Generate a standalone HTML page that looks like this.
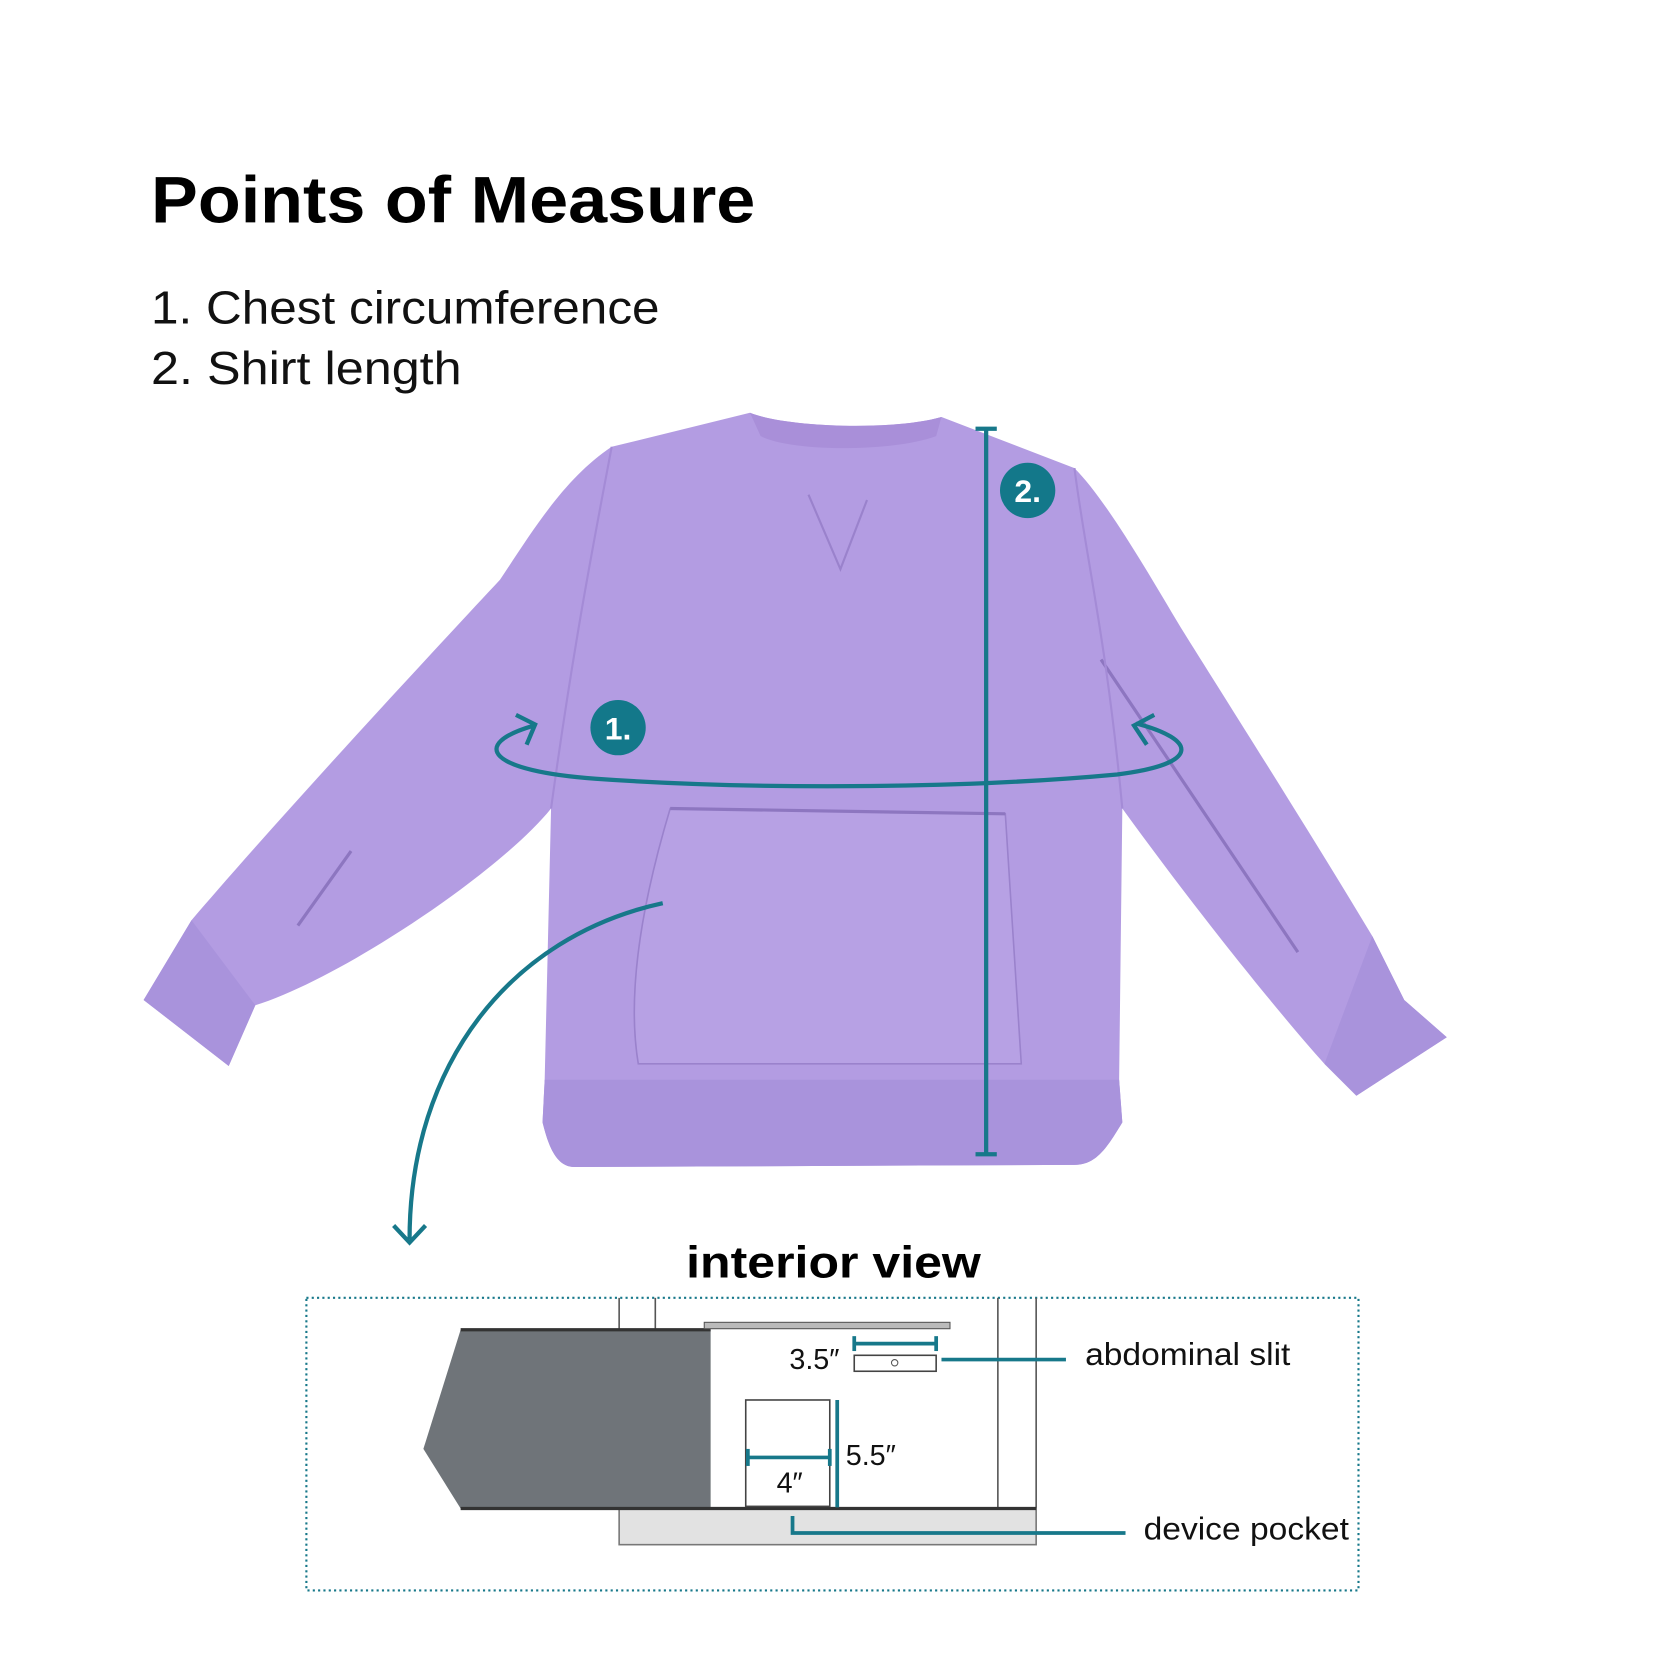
<!DOCTYPE html>
<html><head><meta charset="utf-8"><style>
html,body{margin:0;padding:0;background:#fff;}
svg{display:block;}
text{font-family:"Liberation Sans",sans-serif;}
</style></head><body>
<svg width="1667" height="1667" viewBox="0 0 1567 1567" xmlns="http://www.w3.org/2000/svg">
<rect width="1567" height="1567" fill="#fff"/>
<text x="142" y="209" font-size="62" font-weight="bold" fill="#000" textLength="568" lengthAdjust="spacingAndGlyphs">Points of Measure</text>
<text x="142" y="304" font-size="44" fill="#111" textLength="478" lengthAdjust="spacingAndGlyphs">1. Chest circumference</text>
<text x="142" y="361" font-size="44" fill="#111" textLength="292" lengthAdjust="spacingAndGlyphs">2. Shirt length</text>

<!-- sweater -->
<g>
<path d="M705,388 C740,402 840,405 885,392 L1010,440 C1040,470 1080,540 1110,590 C1160,670 1230,780 1290,880 L1320,940 L1360,975 L1275,1030 L1245,1000 C1200,950 1120,850 1055,760 L1052,1015 L1055,1055 C1040,1080 1030,1095 1010,1095 L540,1097 C522,1097 515,1075 510,1055 L512,1015 L518,760 C470,820 320,920 240,945 L215,1002 L135,940 L180,865 C270,760 400,620 470,545 C500,500 530,450 575,420 Z" fill="#b39ce2"/>
<path d="M705,388 C740,402 840,405 885,392 L880,410 C840,425 745,425 715,410 Z" fill="#a98fd9"/>
<path d="M512,1015 L1052,1015 L1055,1055 C1040,1080 1030,1095 1010,1095 L540,1097 C522,1097 515,1075 510,1055 Z" fill="#a993dc"/>
<path d="M180,865 L240,945 L215,1002 L135,940 Z" fill="#a993dc"/>
<path d="M1290,880 L1320,940 L1360,975 L1275,1030 L1245,1000 Z" fill="#a993dc"/>
<path d="M630,760 L945,765 L960,1000 L600,1000 C590,940 600,860 630,760 Z" fill="#b7a1e4" stroke="#9a82cc" stroke-width="1.5"/>
<line x1="630" y1="760" x2="945" y2="765" stroke="#8d76c0" stroke-width="3"/>
<path d="M760,465 L790,535 L815,470" fill="none" stroke="#9a82cc" stroke-width="2"/>
<path d="M280,870 L330,800 M1035,620 L1220,895" stroke="#8d76c0" stroke-width="3"/>
<path d="M575,420 C560,500 540,600 518,760 M1010,440 C1020,520 1040,600 1055,760" fill="none" stroke="#a48bd6" stroke-width="2"/>
</g>

<!-- measurement 2 -->
<g stroke="#17788a" stroke-width="4" fill="none">
<line x1="927" y1="403" x2="927" y2="1085"/>
<line x1="917" y1="403" x2="937" y2="403"/>
<line x1="917" y1="1085" x2="937" y2="1085"/>
<path d="M502,682 C440,700 460,725 560,732 C700,742 900,742 1050,728 C1130,718 1125,695 1068,680"/>
<path d="M485,672 L503,681 L495,700"/>
<path d="M1085,672 L1066,682 L1078,700"/>
<path d="M623,849 C480,880 385,1000 385,1165"/>
<path d="M370,1152 L385,1168 L400,1152"/>
</g>
<circle cx="966" cy="461" r="26" fill="#13788a"/>
<text x="966" y="472" font-size="30" font-weight="bold" fill="#fff" text-anchor="middle">2.</text>
<circle cx="581" cy="684" r="26" fill="#13788a"/>
<text x="581" y="695" font-size="30" font-weight="bold" fill="#fff" text-anchor="middle">1.</text>

<!-- interior view -->
<text x="645" y="1201" font-size="42" font-weight="bold" fill="#000" textLength="277" lengthAdjust="spacingAndGlyphs">interior view</text>
<rect x="288" y="1220" width="989" height="275" fill="none" stroke="#17788a" stroke-width="2" stroke-dasharray="2,3"/>
<g stroke="#555" stroke-width="1.5" fill="none">
<line x1="582" y1="1220" x2="582" y2="1250"/>
<line x1="616" y1="1220" x2="616" y2="1250"/>
<line x1="938" y1="1220" x2="938" y2="1418"/>
<line x1="974" y1="1220" x2="974" y2="1418"/>
</g>
<rect x="582" y="1418" width="392" height="34" fill="#e2e2e2" stroke="#777" stroke-width="1.5"/>
<polygon points="433,1250 668,1250 668,1418 433,1418 398,1362" fill="#6f7479"/>
<line x1="433" y1="1250" x2="668" y2="1250" stroke="#333" stroke-width="3"/>
<line x1="433" y1="1418" x2="974" y2="1418" stroke="#333" stroke-width="3"/>
<rect x="662" y="1243" width="231" height="6" fill="#bbb" stroke="#555" stroke-width="1"/>
<rect x="803" y="1274" width="77" height="15" fill="#fff" stroke="#444" stroke-width="1.5"/>
<circle cx="841" cy="1281" r="3" fill="none" stroke="#555"/>
<rect x="701" y="1316" width="79" height="100" fill="#fff" stroke="#444" stroke-width="1.5"/>
<g stroke="#17788a" stroke-width="3.5" fill="none">
<line x1="803" y1="1263" x2="880" y2="1263"/><line x1="803" y1="1256" x2="803" y2="1270"/><line x1="880" y1="1256" x2="880" y2="1270"/>
<line x1="885" y1="1278" x2="1002" y2="1278"/>
<line x1="787" y1="1316" x2="787" y2="1417"/>
<line x1="703" y1="1370" x2="780" y2="1370"/><line x1="703" y1="1362" x2="703" y2="1378"/><line x1="780" y1="1362" x2="780" y2="1378"/>
<path d="M745,1425 L745,1441 L1058,1441"/>
</g>
<g font-size="27" fill="#111">
<text x="742" y="1287">3.5″</text>
<text x="795" y="1377">5.5″</text>
<text x="730" y="1403">4″</text>
<text x="1020" y="1283" font-size="30" textLength="193" lengthAdjust="spacingAndGlyphs">abdominal slit</text>
<text x="1075" y="1447" font-size="30" textLength="193" lengthAdjust="spacingAndGlyphs">device pocket</text>
</g>
</svg>
</body></html>
